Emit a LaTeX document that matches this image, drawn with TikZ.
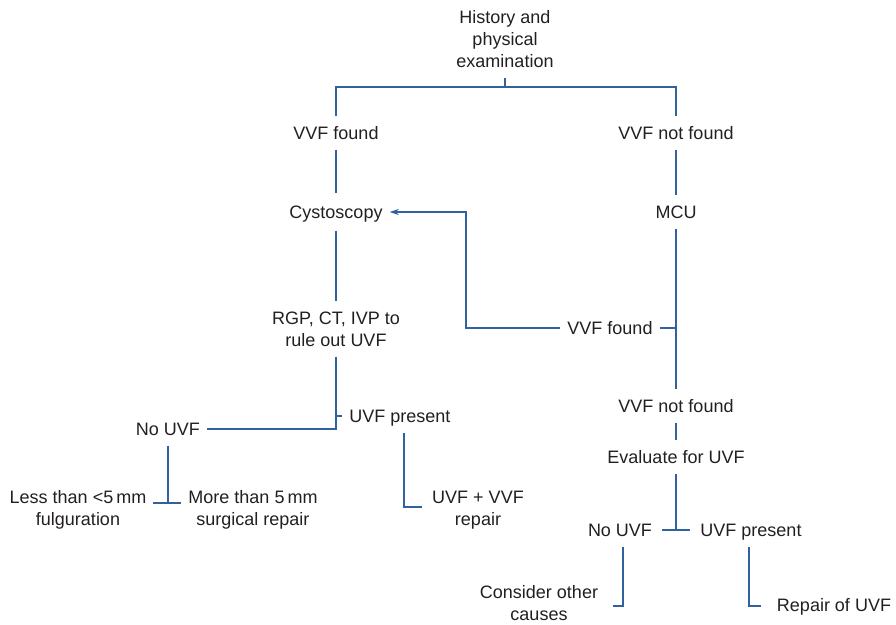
\documentclass[tikz,border=0pt]{standalone}
\usepackage{fontspec}
\setmainfont{Liberation Sans}
\usetikzlibrary{arrows.meta}
\definecolor{lineblue}{RGB}{48,98,158}
\definecolor{txt}{RGB}{35,31,32}
\begin{document}
\begin{tikzpicture}[x=1pt,y=-1pt]
\tikzset{
  basel/.style={font=\fontsize{18}{22}\selectfont, text=txt, inner xsep=7pt, inner ysep=10pt},
  lbl/.style={basel, text height=13pt, text depth=0pt},
  mlbl/.style={basel, align=center},
  conn/.style={draw=lineblue, line width=1.5pt},
  arr/.style={conn, -{Stealth[length=9pt,width=6pt]}},
}
\useasboundingbox (0,0) rectangle (896,624);
% nodes
\node[mlbl] (hist) at (505,39) {History and\\physical\\examination};
\coordinate (j0) at (505,87);
\node[lbl] (vf1) at (336,133) {VVF found};
\node[lbl] (vnf1) at (676,133) {VVF not found};
\node[lbl, inner ysep=12pt] (cys) at (336,212) {Cystoscopy};
\node[lbl] (mcu) at (676,212) {MCU};
\node[mlbl] (rgp) at (336,329) {RGP, CT, IVP to\\rule out UVF};
\node[lbl] (vff2) at (610,328) {VVF found};
\coordinate (jx) at (466,0);
\node[lbl] (nouvf1) at (168,429) {No UVF};
\node[lbl] (uvfp1) at (400,416) {UVF present};
\node[mlbl] (less) at (78,510) {Less than <5\,mm\\fulguration};
\node[mlbl] (more) at (253,510) {More than 5\,mm\\surgical repair};
\coordinate (j1) at (168,503);
\node[mlbl, inner xsep=10pt] (uvvf) at (478,510) {UVF + VVF\\repair};
\node[lbl] (vnf2) at (676,406) {VVF not found};
\node[lbl] (eval) at (676,457) {Evaluate for UVF};
\coordinate (j2) at (676,530);
\node[lbl, inner xsep=10pt] (nouvf2) at (620,530) {No UVF};
\node[lbl, inner xsep=10pt] (uvfp2) at (751,530) {UVF present};
\node[mlbl, inner xsep=15pt, inner ysep=1pt] (cons) at (539,603.5) {Consider other\\causes};
\node[lbl, inner xsep=16pt] (rep) at (834,605) {Repair of UVF};
% connectors
\draw[conn] (hist.south) -- (j0);
\draw[conn] (vf1.north) -- (vf1.north |- j0) -- (vnf1.north |- j0) -- (vnf1.north);
\draw[conn] (vf1.south) -- (cys.north);
\draw[conn] (vnf1.south) -- (mcu.north);
\draw[conn] (cys.south) -- (rgp.north);
\draw[conn] (rgp.south) |- (nouvf1.east);
\draw[conn] (uvfp1.west) -- (uvfp1.west -| rgp.south);
\draw[conn] (nouvf1.south) -- (j1);
\draw[conn] (less.east |- j1) -- (more.west |- j1);
\coordinate (k1) at (404,507);
\draw[conn] (uvfp1.south -| k1) -- (k1) -- (uvvf.west |- k1);
\draw[arr] (vff2.west) -| (cys.east -| jx) -- (cys.east);
\draw[conn] (vff2.east) -- (vff2.east -| mcu.south);
\draw[conn] (mcu.south) -- (vnf2.north);
\draw[conn] (vnf2.south) -- (eval.north);
\draw[conn] (eval.south) -- (j2);
\draw[conn] (nouvf2.east) -- (uvfp2.west);
\coordinate (k2) at (623,606);
\draw[conn] (nouvf2.south -| k2) -- (k2) -- (cons.east |- k2);
\coordinate (k3) at (749,606);
\draw[conn] (uvfp2.south -| k3) -- (k3) -- (rep.west |- k3);
\end{tikzpicture}
\end{document}
